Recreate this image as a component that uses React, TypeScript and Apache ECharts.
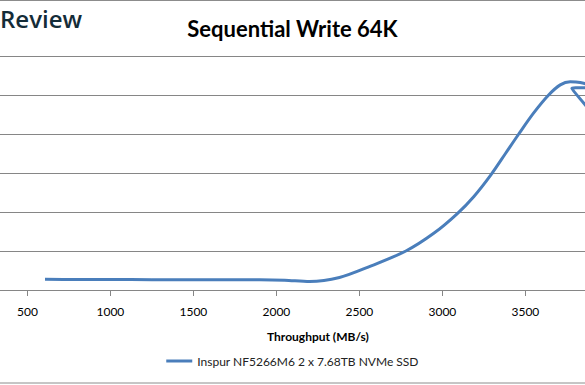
import React, { useEffect, useRef } from "react";
import * as echarts from "echarts";

const throughput = [606, 800, 1000, 1250, 1500, 1750, 1900, 2050, 2200, 2380, 2560, 2780, 2950, 3090, 3190, 3290, 3380, 3460, 3550, 3640, 3710, 3770, 3830, 3920, 3780, 3870];
const latency = [0.137, 0.135, 0.135, 0.132, 0.13, 0.13, 0.13, 0.125, 0.108, 0.16, 0.3, 0.5, 0.73, 0.98, 1.2, 1.47, 1.75, 2.0, 2.27, 2.5, 2.63, 2.67, 2.66, 2.6, 2.586, 2.35];
const seriesName = "Inspur NF5266M6 2 x 7.68TB NVMe SSD";
const titleText = "Sequential Write 64K";
const xAxisName = "Throughput (MB/s)";
const logoText = "Review";

const PAD = 120; // the chart is wider than the page and cropped on both sides
const PAGE_W = 585;
const PAGE_H = 385;

export default function App() {
  const ref = useRef<HTMLDivElement>(null);
  useEffect(() => {
    if (!ref.current) return;
    const chart = echarts.init(ref.current, null, { renderer: "svg" });
    const data = throughput.map((t, i) => [t, latency[i]]);
    chart.setOption({
      animation: false,
      backgroundColor: "#ffffff",
      title: {
        text: titleText,
        left: "center",
        top: 12,
        textStyle: { fontFamily: "Lato", fontWeight: "bold", fontSize: 22, color: "#000" },
      },
      graphic: [
        { type: "line", shape: { x1: PAD, y1: 0.5, x2: PAD + PAGE_W, y2: 0.5 }, style: { stroke: "#8c8c8c", lineWidth: 1 } },
        { type: "line", shape: { x1: PAD, y1: 383, x2: PAD + PAGE_W, y2: 383 }, style: { stroke: "#8c8c8c", lineWidth: 1 } },
        {
          type: "text",
          x: PAD,
          y: 6,
          style: { text: logoText, fontFamily: "Open Sans", fontSize: 24, fill: "#142c38", fontWeight: 600 },
        },
      ],
      legend: {
        bottom: 13,
        left: "center",
        icon: "rect",
        itemWidth: 26,
        itemHeight: 3,
        textStyle: { fontFamily: "Lato", fontSize: 12, color: "#222" },
        data: [seriesName],
      },
      grid: { left: PAD - 55.6, right: PAD - 106.4, top: 56, bottom: 95 },
      xAxis: {
        type: "value",
        min: 0,
        max: 4500,
        interval: 500,
        name: xAxisName,
        nameLocation: "middle",
        nameGap: 40,
        nameTextStyle: { fontFamily: "Lato", fontWeight: "bold", fontSize: 12, color: "#000" },
        axisLine: { lineStyle: { color: "#868686", width: 1 } },
        axisTick: { length: 6, lineStyle: { color: "#868686" } },
        axisLabel: {
          fontFamily: "Lato",
          fontSize: 12,
          color: "#000",
          margin: 15,
          formatter: (v: number) => (v > 0 && v < 4000 ? String(v) : ""),
        },
        splitLine: { show: false },
      },
      yAxis: {
        type: "value",
        min: 0,
        max: 3,
        interval: 0.5,
        axisLine: { show: false },
        axisTick: { show: false },
        axisLabel: { show: false },
        splitLine: { lineStyle: { color: "#868686", width: 1 } },
      },
      series: [
        {
          name: seriesName,
          type: "line",
          data,
          smooth: 0.3,
          showSymbol: false,
          lineStyle: { color: "#4a7ebb", width: 3 },
          itemStyle: { color: "#4a7ebb" },
        },
      ],
    });
    return () => chart.dispose();
  }, []);
  return (
    <div style={{ position: "fixed", left: 0, top: 0, width: PAGE_W, height: PAGE_H, overflow: "hidden" }}>
      <div ref={ref} style={{ position: "absolute", left: -PAD, top: 0, width: PAGE_W + 2 * PAD, height: PAGE_H }} />
    </div>
  );
}
